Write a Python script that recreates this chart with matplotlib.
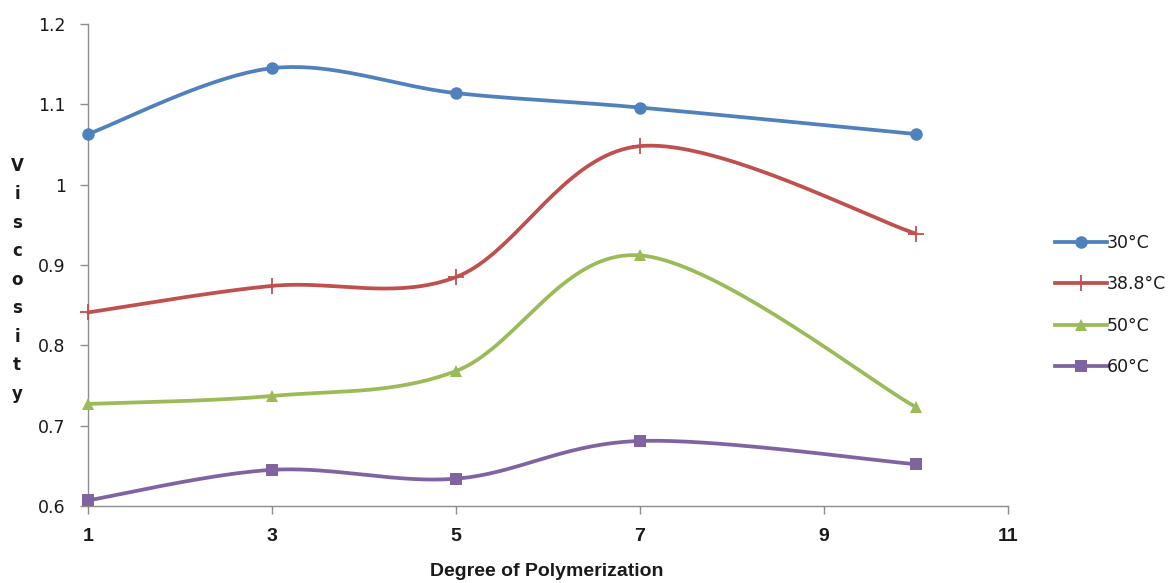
import numpy as np
import matplotlib
matplotlib.use("Agg")
import matplotlib.pyplot as plt
from matplotlib.lines import Line2D

degree = [1, 3, 5, 7, 10]
visc_30 = [1.063, 1.145, 1.114, 1.096, 1.063]
visc_388 = [0.841, 0.874, 0.885, 1.048, 0.939]
visc_50 = [0.727, 0.737, 0.768, 0.912, 0.723]
visc_60 = [0.607, 0.645, 0.634, 0.681, 0.652]
labels = ["30°C", "38.8°C", "50°C", "60°C"]
colors = ["#4F81BD", "#C0504D", "#9BBB59", "#8064A2"]
markers = ["o", "+", "^", "s"]
xticks = [1, 3, 5, 7, 9, 11]
yticks = [0.6, 0.7, 0.8, 0.9, 1.0, 1.1, 1.2]
yticklabels = ["0.6", "0.7", "0.8", "0.9", "1", "1.1", "1.2"]


def smooth(xs, ys, n=40):
    P = np.column_stack([xs, ys]).astype(float)
    m = len(P)
    out = []
    for i in range(m - 1):
        p0 = P[i - 1] if i > 0 else P[i]
        p1 = P[i]
        p2 = P[i + 1]
        p3 = P[i + 2] if i + 2 < m else P[i + 1]
        c1 = p1 + (p2 - p0) / 6.0
        c2 = p2 - (p3 - p1) / 6.0
        t = np.linspace(0, 1, n)[:, None]
        seg = ((1 - t) ** 3) * p1 + 3 * ((1 - t) ** 2) * t * c1 + 3 * (1 - t) * t ** 2 * c2 + t ** 3 * p2
        out.append(seg if i == 0 else seg[1:])
    c = np.vstack(out)
    return c[:, 0], c[:, 1]


fig = plt.figure(figsize=(11.68, 5.83), dpi=100)
ax = fig.add_axes([88 / 1168, 77 / 583, 920 / 1168, 482 / 583])

series = [visc_30, visc_388, visc_50, visc_60]
msizes = [9, 11, 9, 8]
handles = []
for ys, lab, col, mk, ms in zip(series, labels, colors, markers, msizes):
    sx, sy = smooth(degree, ys)
    ax.plot(sx, sy, color=col, lw=2.7, solid_capstyle="round", clip_on=False, zorder=3)
    ax.plot(degree, ys, linestyle="none", marker=mk, color=col, ms=ms,
            mew=1.3 if mk == "+" else 0, clip_on=False, zorder=4)
    handles.append(Line2D([0], [0], color=col, lw=2.7, marker=mk, ms=ms,
                          mew=1.3 if mk == "+" else 0))

ax.set_xlim(1, 11)
ax.set_ylim(0.6, 1.2)
ax.set_xticks(xticks)
ax.set_yticks(yticks)
ax.set_yticklabels(yticklabels)
for s in ["top", "right"]:
    ax.spines[s].set_visible(False)
for s in ["left", "bottom"]:
    ax.spines[s].set_color("#8c8c8c")
    ax.spines[s].set_linewidth(1.0)
ax.tick_params(axis="both", direction="out", length=6, color="#8c8c8c", width=1.0)
ax.tick_params(axis="y", pad=10, labelsize=12.5, labelcolor="#1a1a1a")
ax.tick_params(axis="x", pad=10, labelsize=14, labelcolor="#1a1a1a")
for t in ax.get_xticklabels():
    t.set_fontfamily(["Liberation Sans Narrow", "Liberation Sans"])
    t.set_fontweight("bold")
for t in ax.get_yticklabels():
    t.set_fontfamily(["DejaVu Sans"])

fig.text(547 / 1168, 1 - 572 / 583, "Degree of Polymerization", ha="center", va="center",
         fontsize=14, fontweight="bold", family=["Liberation Sans Narrow", "Liberation Sans"],
         color="#1a1a1a")

fig.text(17 / 1168, 1 - 280 / 583, "\n".join("Viscosity"), ha="center", va="center",
         fontsize=12, fontweight="bold", linespacing=1.75, color="#1a1a1a")

leg = fig.legend(handles, labels, loc="center left", bbox_to_anchor=(1048 / 1168, 1 - 305 / 583),
                 frameon=False, fontsize=12.5, handlelength=3.0, handletextpad=0.0,
                 labelspacing=1.35, borderaxespad=0)
for t in leg.get_texts():
    t.set_color("#1a1a1a")

fig.savefig("out.png", dpi=100)
